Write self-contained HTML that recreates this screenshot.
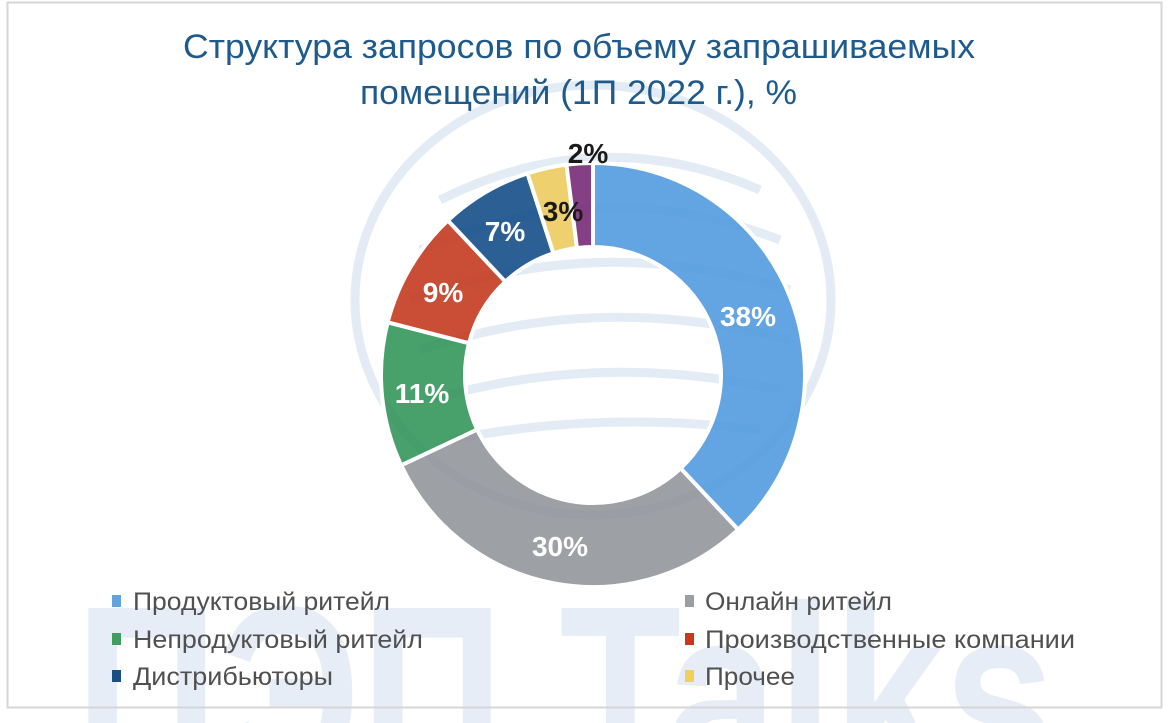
<!DOCTYPE html>
<html><head><meta charset="utf-8"><style>
html,body{margin:0;padding:0;background:#fff;width:1170px;height:723px;overflow:hidden;}
svg{display:block;overflow:hidden;}
</style></head><body>
<svg id="s" width="1170" height="723" viewBox="0 0 1170 723" xmlns="http://www.w3.org/2000/svg" font-family="'Liberation Sans', 'DejaVu Sans', sans-serif">
<defs><clipPath id="c"><rect x="0" y="0" width="1170" height="723"/></clipPath></defs>
<rect x="0" y="0" width="1170" height="723" fill="#fff"/>
<g clip-path="url(#c)">
<g fill="none" stroke="#e3ebf5" stroke-width="9">
<ellipse cx="593" cy="300" rx="238" ry="215"/>
<path d="M440 200 Q600 120 760 190" />
<path d="M420 250 Q600 170 780 240" />
<path d="M410 300 Q600 230 790 290" />
<path d="M420 350 Q600 290 790 340" />
<path d="M430 400 Q600 350 780 390" />
<path d="M450 440 Q600 410 760 430" />
</g>
<text x="75" y="780" font-size="250" font-weight="bold" fill="#e6edf6" textLength="980" lengthAdjust="spacingAndGlyphs">ПЭП Talks</text>
</g>
<rect x="7.5" y="2.5" width="1154" height="705" fill="none" stroke="#d6d6d6" stroke-width="2"/>
<text x="183" y="58" font-size="34" fill="#1f5a8c" textLength="792" lengthAdjust="spacingAndGlyphs">Структура запросов по объему запрашиваемых</text>
<text x="360" y="104" font-size="34" fill="#1f5a8c" textLength="437" lengthAdjust="spacingAndGlyphs">помещений (1П 2022 г.), %</text>
<g id="donut" stroke="#fff" stroke-width="4" fill-opacity="0.88"></g>
<g font-weight="bold" font-size="28" text-anchor="middle">
<text x="748" y="326" fill="#fff">38%</text>
<text x="560" y="556" fill="#fff">30%</text>
<text x="422" y="403" fill="#fff">11%</text>
<text x="443" y="302" fill="#fff">9%</text>
<text x="505" y="241" fill="#fff">7%</text>
<text x="563" y="221" fill="#1a1a1a">3%</text>
<text x="588" y="163" fill="#1a1a1a">2%</text>
</g>
<g font-size="25" fill="#505050">
<rect x="112" y="595" width="9" height="12" fill="#5fa3e0"/><text x="133" y="610" textLength="257" lengthAdjust="spacingAndGlyphs">Продуктовый ритейл</text>
<rect x="112" y="633" width="9" height="12" fill="#3f9e5f"/><text x="133" y="648" textLength="290" lengthAdjust="spacingAndGlyphs">Непродуктовый ритейл</text>
<rect x="112" y="670" width="9" height="12" fill="#1a4f86"/><text x="133" y="685" textLength="200" lengthAdjust="spacingAndGlyphs">Дистрибьюторы</text>
<rect x="685" y="595" width="9" height="12" fill="#9a9da1"/><text x="705" y="610" textLength="187" lengthAdjust="spacingAndGlyphs">Онлайн ритейл</text>
<rect x="685" y="633" width="9" height="12" fill="#c8391b"/><text x="705" y="648" textLength="370" lengthAdjust="spacingAndGlyphs">Производственные компании</text>
<rect x="685" y="670" width="9" height="12" fill="#f0cf5a"/><text x="705" y="685" textLength="90" lengthAdjust="spacingAndGlyphs">Прочее</text>
</g>
</svg>
<script>
(function(){
var cx=593,cy=375,R=212,r=128;
var d=[[38,'#4d98de'],[30,'#8f9398'],[11,'#2f9356'],[9,'#c3361a'],[7,'#0f4a86'],[3,'#ecc95a'],[2,'#742574']];
var a=-90,g=document.getElementById('donut'),s='';
function p(rad,ang){var t=ang*Math.PI/180;return (cx+rad*Math.cos(t)).toFixed(2)+' '+(cy+rad*Math.sin(t)).toFixed(2);}
d.forEach(function(e){var b=a+e[0]*3.6;var l=(b-a)>180?1:0;
s+='<path fill="'+e[1]+'" d="M'+p(R,a)+' A'+R+' '+R+' 0 '+l+' 1 '+p(R,b)+' L'+p(r,b)+' A'+r+' '+r+' 0 '+l+' 0 '+p(r,a)+' Z"/>';a=b;});
g.innerHTML=s;
})();
</script>
</body></html>
